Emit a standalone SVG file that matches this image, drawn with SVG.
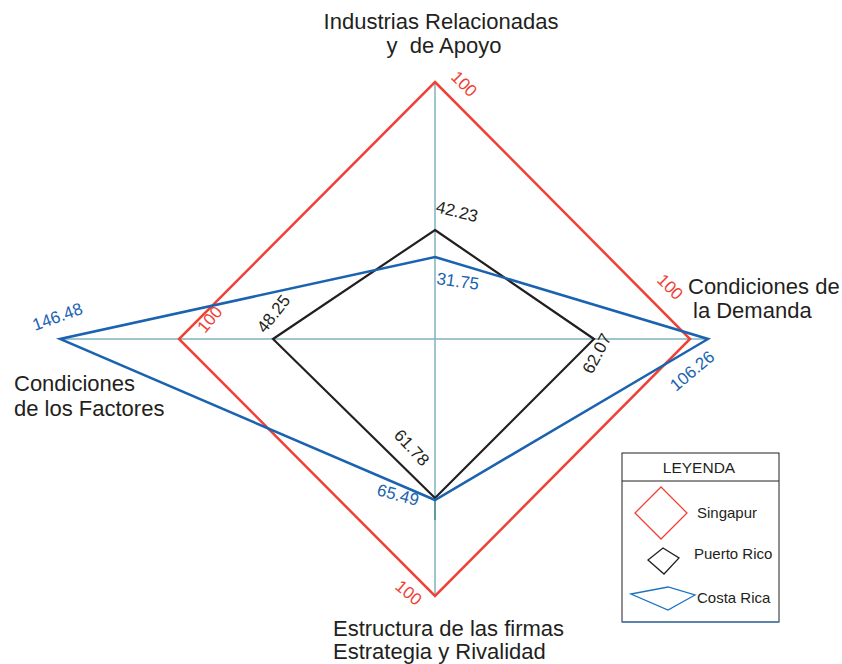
<svg xmlns="http://www.w3.org/2000/svg" width="842" height="664" viewBox="0 0 842 664">
<style>
text{font-family:"Liberation Sans",Arial,sans-serif}
.lab{font-size:22px;fill:#231f20}
.num{font-size:17px}
.r{fill:#ef4136}.k{fill:#231f20}.b{fill:#1b63b0}
.ax{stroke:#7fb3bf;stroke-width:1.5;fill:none}
.sr{stroke:#ef4136;stroke-width:2.5;fill:none}
.sk{stroke:#231f20;stroke-width:2.2;fill:none}
.sb{stroke:#1b63b0;stroke-width:2.5;fill:none}
.lg{font-size:15px;fill:#231f20}
</style>
<rect width="842" height="664" fill="#fff"/>
<g id="connectors">
<line class="ax" x1="60" y1="339" x2="708" y2="339"/>
<line class="ax" x1="435" y1="82" x2="435" y2="596"/>
<line x1="435" y1="498" x2="435" y2="520" stroke="#4f8a94" stroke-width="1.5"/>
</g>
<g id="singapur"><polygon class="sr" points="435,82 690,339 435,596 179,339"/></g>
<g id="puerto-rico"><polygon class="sk" points="435,230 594,339 435,498 273,339"/></g>
<g id="costa-rica"><polygon class="sb" points="435,257 708,339 435,500 60,339"/></g>
<g id="labels">
<text class="lab" x="441" y="29" text-anchor="middle">Industrias Relacionadas</text>
<text class="lab" x="444" y="53" text-anchor="middle">y&#160; de Apoyo</text>
<text class="lab" x="688" y="294">Condiciones de</text>
<text class="lab" x="693" y="318">la Demanda</text>
<text class="lab" x="14" y="391">Condiciones</text>
<text class="lab" x="14" y="416">de los Factores</text>
<text class="lab" x="333" y="636">Estructura de las firmas</text>
<text class="lab" x="333" y="659">Estrategia y Rivalidad</text>
</g>
<g id="values">
<text class="num r" transform="translate(450,78) rotate(45)">100</text>
<text class="num r" transform="translate(656,281) rotate(45)">100</text>
<text class="num r" transform="translate(205,334) rotate(-50)">100</text>
<text class="num r" transform="translate(394,588) rotate(40)">100</text>
<text class="num k" transform="translate(435,212) rotate(14)">42.23</text>
<text class="num b" transform="translate(436,284) rotate(8)">31.75</text>
<text class="num k" transform="translate(592,375) rotate(-62)">62.07</text>
<text class="num b" transform="translate(676,392) rotate(-40)">106.26</text>
<text class="num k" transform="translate(265,334) rotate(-52)">48.25</text>
<text class="num b" transform="translate(35,331) rotate(-20)">146.48</text>
<text class="num k" transform="translate(393,436) rotate(47)">61.78</text>
<text class="num b" transform="translate(376,495) rotate(15)">65.49</text>
</g>
<g id="legend">
<rect x="622" y="453" width="157" height="169" fill="#fff" stroke="#231f20" stroke-width="1"/>
<line x1="622" y1="481" x2="779" y2="481" stroke="#231f20" stroke-width="1"/>
<line x1="622" y1="622" x2="779" y2="622" stroke="#4a7fb5" stroke-width="1.5"/>
<text x="699" y="473" text-anchor="middle" font-size="15.5" fill="#231f20">LEYENDA</text>
<polygon points="661,487 687,513 661,539 635,513" fill="none" stroke="#ef4136" stroke-width="1.3"/>
<polygon points="663,548 679,558 664,574 648,560" fill="none" stroke="#231f20" stroke-width="1.3"/>
<polygon points="631,594 668,587 695,595 668,610" fill="none" stroke="#1b74c0" stroke-width="1.3"/>
<text class="lg" x="697" y="518">Singapur</text>
<text class="lg" x="694" y="559">Puerto Rico</text>
<text class="lg" x="697" y="603">Costa Rica</text>
</g>
</svg>
